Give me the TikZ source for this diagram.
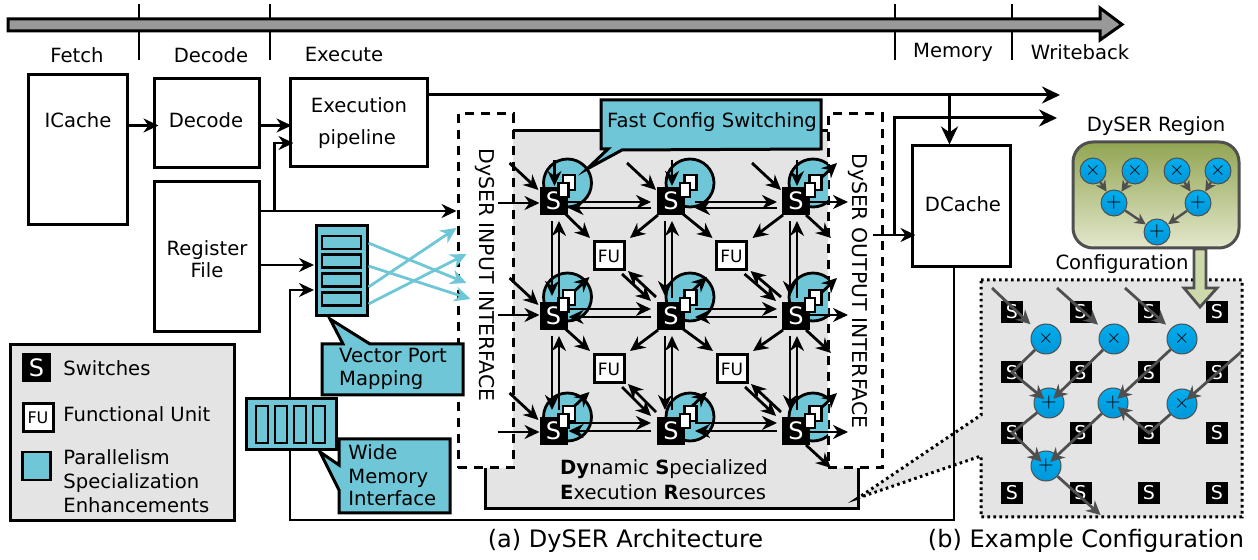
\documentclass[tikz,border=0pt]{standalone}
\usepackage{fontspec}
\setmainfont{DejaVu Sans}
\usetikzlibrary{arrows.meta}

\definecolor{cyanfill}{HTML}{6EC6D6}
\definecolor{greyfill}{HTML}{E4E4E4}
\definecolor{darkline}{HTML}{4F4F4F}
\definecolor{optop}{HTML}{00AEEF}
\definecolor{opbot}{HTML}{0096D8}
\definecolor{regtop}{HTML}{92A552}
\definecolor{regbot}{HTML}{E3E7CC}
\definecolor{cfgfill}{HTML}{CDD8AB}

\tikzset{
	box/.style = {draw, line width=1.5pt, fill=white},
	bluebox/.style = {box, fill=cyanfill},
	dashbox/.style = {draw, line width=1.5pt, dash pattern=on 4.5pt off 3.5pt},
	sw/.style = {fill=black, text=white, minimum size=14pt, font=\fontsize{12}{12}\selectfont},
	smallsw/.style = {fill=black, text=white, minimum size=11pt, font=\fontsize{9.5}{10}\selectfont},
	fu/.style = {box, minimum width=15pt, minimum height=14pt, font=\fontsize{8.5}{9}\selectfont},
	circ/.style = {circle, draw, fill=cyanfill, line width=1.4pt, minimum size=24pt},
	ar/.style = {line width=1.4pt, -{Stealth[length=7.5pt,width=7pt]}},
	bigar/.style = {line width=1.5pt, -{Stealth[length=9pt,width=8.5pt]}},
	bluear/.style = {line width=1.4pt, cyanfill, -{Stealth[length=8pt,width=7.5pt]}},
	greyar/.style = {line width=1.4pt, darkline, shorten >=3pt, -{Stealth[length=7pt,width=7pt]}},
	op/.style = {circle, draw=darkline, line width=.5pt, top color=optop, bottom color=opbot, text=black},
	lbl/.style = {align=left},
}

\begin{document}
\begin{tikzpicture}[x=0.5pt, y=-0.5pt, every node/.style = {inner sep=0pt, font=\fontsize{9.8}{11.5}\selectfont}]
\useasboundingbox (0,0) rectangle (1258,560);

% pipeline bar
\foreach \x in {139,270,895,1012}
{
	\draw[line width=1.4pt] (\x,4) -- (\x,60);
};
\draw[line width=1.5pt, fill=black!40] (8,19) -- (1100,19) -- (1100,8) -- (1122,24.5) -- (1100,40) -- (1100,31) -- (8,31) -- cycle;
\node (fetch) at (77,55) {Fetch};
\node (dec) at (211,55) {Decode};
\node (exe) at (344,55) {Execute};
\node (mem) at (953,52) {Memory};
\node (wb) at (1080,52) {Writeback};

% dyser fabric background
\fill[greyfill] (513,131) -- (828,131) -- (828,468) -- (858,468) -- (858,509) -- (485,509) -- (485,468) -- (513,468) -- cycle;
\draw[line width=1.5pt] (513,131) -- (828,131);
\draw[line width=1.5pt] (485,468) -- (485,509) -- (858,509) -- (858,468);
\node[dashbox, minimum width=27.5pt, minimum height=177pt] (dyin) at (485.5,291) {};
\node[dashbox, minimum width=27pt, minimum height=177pt] (dyout) at (855,291) {};
\node[rotate=-90, font=\fontsize{10.2}{12}\selectfont] (dyinl) at (485,275) {DySER INPUT INTERFACE};
\node[rotate=-90, font=\fontsize{10.2}{12}\selectfont] (dyoutl) at (858,291) {DySER OUTPUT INTERFACE};

% pipeline blocks
\node[box, minimum width=49.5pt, minimum height=75pt] (icache) at (77.5,150) {};
\node[box, minimum width=52.5pt, minimum height=44.5pt] (decode) at (206.5,123.5) {};
\node[box, minimum width=68.5pt, minimum height=44pt] (execp) at (358.5,123) {};
\node[box, minimum width=52.5pt, minimum height=75pt] (regfile) at (206.5,257) {};
\node[box, minimum width=49pt, minimum height=60.5pt] (dcache) at (961,206.5) {};
\node (icachel) at (78,120) {ICache};
\node (decodel) at (206,120) {Decode};
\node (execl) at (359,105) {Execution};
\node (pipel) at (357,139) {pipeline};
\node[align=center] (regl) at (207,259.5) {Register\\[-0.5pt]File};
\node (dcachel) at (963,204) {DCache};

\coordinate (rowa) at (0,125.5);
\coordinate (rowb) at (0,143);
\coordinate (rfup) at (274.5,211);
\coordinate (rfmid) at (0,265);
\coordinate (wba) at (1060,95);
\coordinate (wbb) at (1057,118);
\coordinate (outa) at (873,235);
\coordinate (outb) at (894,235);
\coordinate (mema) at (949.5,95);
\coordinate (memb) at (290,520);
\coordinate (memt) at (0,290);

\draw[ar] (icache.east |- rowa) -- ([xshift=3pt]decode.west |- rowa);
\draw[ar] (decode.east |- rowa) -- ([xshift=1.5pt]execp.west |- rowa);
\draw[ar] (rfup) |- ([xshift=2.5pt]execp.west |- rowb);
\draw[ar] (regfile.east |- rfup) -- (dyin.west |- rfup);
\draw[bigar] (execp.east |- wba) -- (wba);
\draw[bigar] (outb) |- (wbb);
\draw[bigar] (mema) -- (mema |- dcache.north);
\draw[ar] (outa) -- ([xshift=2.5pt]dcache.west |- outa);

% switches
\begin{scope}
\clip (0,0) rectangle (828,560);
\foreach \c/\x/\cx in {1/553.5/567.5,2/671/690,3/796/813}
{
	\foreach \r/\cy in {1/183,2/297,3/417}
	{
		\node[circ] (circ\r\c) at (\cx,\cy) {};
	};
};
\end{scope}
\foreach \c/\x in {1/553.5,2/671,3/796}
{
	\foreach \r/\y in {1/201,2/316,3/431}
	{
		\node[sw] (s\r\c) at (\x,\y) {S};
	};
};
\node[fu] (fu11) at (609,256) {FU};
\node[fu] (fu12) at (731.5,256) {FU};
\node[fu] (fu21) at (609,369) {FU};
\node[fu] (fu22) at (732,369) {FU};

% arrows into the switches
\foreach \n in {s11,s12,s13,s21,s31}
{
	\draw[ar] ([shift={(-44,-38)}]\n.center) -- ([shift={(-15,-11)}]\n.center);
};
\foreach \n in {s11,s12,s13}
{
	\draw[ar] ([shift={(1,-41)}]\n.center) -- ([shift={(1,-15)}]\n.center);
};
\foreach \n/\dy in {s11/2,s21/-1,s31/1}
{
	\draw[ar] ([shift={(-56,\dy)}]\n.center) -- ([shift={(-14,\dy)}]\n.center);
};
\foreach \n/\dy in {s13/1,s23/-1,s33/1}
{
	\draw[ar] ([shift={(14,\dy)}]\n.center) -- ([shift={(52,\dy)}]\n.center);
};
% diagonals
\foreach \n/\f in {s11/fu11,s12/fu12,s21/fu21,s22/fu22}
{
	\draw[ar] ([shift={(12,13)}]\n.center) -- ([shift={(-19,-18)}]\f.center);
};
\foreach \n/\f in {s12/fu11,s13/fu12,s22/fu21,s23/fu22}
{
	\draw[ar] ([shift={(-13,14)}]\n.center) -- ([shift={(21,-18)}]\f.center);
};
\foreach \n in {s13,s23,s33}
{
	\draw[ar] ([shift={(10,14)}]\n.center) -- ([shift={(35,37)}]\n.center);
};
\foreach \f/\n in {fu11/s22,fu12/s23,fu21/s32,fu22/s33}
{
	\draw[ar] ([shift={(13,18)}]\f.center) -- ([shift={(-20,-15)}]\n.center);
	\draw[ar] ([shift={(-15,-19)}]\n.center) -- ([shift={(19,15)}]\f.center);
};
% between the columns
\foreach \r/\dy/\dz in {1/1/7,2/-7/1,3/-8/0}
{
	\draw[ar] ([shift={(14,\dy)}]s\r1.center) -- ([shift={(-20,\dy)}]s\r2.center);
	\draw[ar] ([shift={(-20,\dz)}]s\r2.center) -- ([shift={(15,\dz)}]s\r1.center);
	\draw[ar] ([shift={(24,\dy)}]s\r2.center) -- ([shift={(-19,\dy)}]s\r3.center);
	\draw[ar] ([shift={(-19,\dz)}]s\r3.center) -- ([shift={(24,\dz)}]s\r2.center);
};
% between the rows
\foreach \c/\da/\db in {1/-1.5/5.5,2/-6/1,3/-6/1}
{
	\draw[ar] ([shift={(\da,20)}]s1\c.center) -- ([shift={(\da,-20)}]s2\c.center);
	\draw[ar] ([shift={(\db,-18)}]s2\c.center) -- ([shift={(\db,20)}]s1\c.center);
	\draw[ar] ([shift={(\da,20)}]s2\c.center) -- ([shift={(\da,-21)}]s3\c.center);
	\draw[ar] ([shift={(\db,-21)}]s3\c.center) -- ([shift={(\db,20)}]s2\c.center);
};
\foreach \n in {s21,s22,s31,s32}
{
	\draw[ar] ([shift={(19,-23)}]\n.center) -- ([shift={(36,-39)}]\n.center);
};
\foreach \n in {s13,s23,s33}
{
	\draw[ar] ([shift={(24,-22)}]\n.center) -- ([shift={(41,-38)}]\n.center);
};
% config copies
\foreach \c/\dx in {1/0,2/4,3/4}
{
	\foreach \r/\dy in {1/0,2/0,3/1}
	{
		\node[box, line width=1.2pt, minimum width=6pt, minimum height=7.5pt] (cb\r\c) at ([shift={(15.5+\dx,-18.5+\dy)}]s\r\c.center) {};
		\node[box, line width=1.2pt, minimum width=5pt, minimum height=7pt] (cf\r\c) at ([shift={(10+\dx,-11+\dy)}]s\r\c.center) {};
	};
};

% callouts
\draw[line width=1.5pt, fill=cyanfill] (601,100) -- (821,100) -- (821,149) -- (622,150) -- (587,169) -- (608,149) -- (601,149) -- cycle;
\node (fast) at (712,122) {Fast Config Switching};

\node[lbl] (dyn) at (664,479.5) {\textbf{Dy}namic \textbf{S}pecialized\\[1pt]\textbf{E}xecution \textbf{R}esources};

% vector ports
\draw[ar] (regfile.east |- rfmid) -- (314,265);
\draw[ar] ([xshift=-3.5pt]dcache.south) |- (memb) |- (314,290);
\draw[line width=1.5pt, fill=cyanfill] (322,344) -- (343,344) -- (330,319) -- (370,344) -- (463,344) -- (463,395) -- (322,395) -- cycle;
\node[lbl] (vpm) at (393,369) {Vector Port\\Mapping};
\node[bluebox, minimum width=25.5pt, minimum height=45pt] (portmap) at (341.5,271) {};
\foreach \i/\y in {1/242.5,2/261,3/280,4/299}
{
	\node[bluebox, line width=1.3pt, minimum width=19.5pt, minimum height=6.5pt] (pb\i) at (341.5,\y) {};
};
\foreach \fy/\tx/\ty in {-28/10/-8,-5/14/8,16/0/-63,33/10/-37}
{
	\draw[bluear] ([shift={(0,\fy)}]portmap.east) -- ([shift={(\tx,\ty)}]dyin.west);
};

% wide memory
\draw[line width=1.5pt, fill=cyanfill] (339,439) -- (450,439) -- (450,513) -- (339,513) -- (339,490) -- (320,452) -- (339,465) -- cycle;
\node[lbl, anchor=west] (wmi) at (348,475.5) {Wide\\[0.5pt]Memory\\[-0.5pt]Interface};
\node[bluebox, minimum width=45pt, minimum height=25.5pt] (widemem) at (291,424.5) {};
\foreach \i/\x in {1/262,2/281,3/300,4/319}
{
	\node[bluebox, line width=1.3pt, minimum width=6pt, minimum height=18.5pt] (wb\i) at (\x,424.5) {};
};

% legend
\node[box, fill=greyfill, minimum width=112pt, minimum height=88pt] (legend) at (122,433) {};
\node[sw, minimum size=14.5pt] (legs) at (36.5,367.5) {S};
\node[fu, font=\fontsize{8}{9}\selectfont] (legf) at (38,417.5) {FU};
\node[bluebox, line width=1.3pt, minimum size=14pt] (legp) at (36.5,466) {};
\node[anchor=west] (legsl) at (63,368) {Switches};
\node[anchor=west] (legfl) at (63,414) {Functional Unit};
\node[anchor=west, lbl] (legpl) at (63,481) {Parallelism\\[0.5pt]Specialization\\[0.5pt]Enhancements};

% example configuration
\draw[line width=1.5pt, fill=greyfill, dash pattern=on 1.3pt off 1.7pt] (981,280) -- (1242,280) -- (1242,517) -- (981,517) -- (981,456) -- (858,498) -- (981,415) -- cycle;
\draw[line width=1.4pt] ([xshift=-3.5pt]dcache.south) -- ++(0,253);
\foreach \r/\y in {1/312,2/372.5,3/433,4/493}
{
	\foreach \c/\x in {1/1012,2/1080.5,3/1149,4/1217}
	{
		\node[smallsw] (e\r\c) at (\x,\y) {S};
	};
};
\node[op, minimum size=15pt] (ex1) at (1046,339) {$\times$};
\node[op, minimum size=15pt] (ex2) at (1114,339) {$\times$};
\node[op, minimum size=15pt] (ex3) at (1182,339) {$\times$};
\node[op, minimum size=15pt] (ex4) at (1182,404) {$\times$};
\node[op, minimum size=15pt] (ep1) at (1049,403) {$+$};
\node[op, minimum size=15pt] (ep2) at (1113,403) {$+$};
\node[op, minimum size=15pt] (ep3) at (1046,466) {$+$};
\coordinate (ei1) at (992,288);
\coordinate (ei2) at (1057,288);
\coordinate (ei3) at (1125,288);
\coordinate (ei4) at (1241,352);
\coordinate (eo) at (1105,519);
\draw[greyar] (ei1) -- (ex1);
\draw[greyar] (ei2) -- (ex2);
\draw[greyar] (ei3) -- (ex3);
\draw[greyar] (ei4) -- (ex4.center);
\draw[greyar] (ex1) -- (e21.center) -- (ep1.center);
\draw[greyar] (ex2) -- (ep1.center);
\draw[greyar] (ex3) -- (ep2.center);
\draw[greyar] (ex4) -- (e33.center) -- (ep2.center);
\draw[greyar] (ep1) -- (e31.center) -- (ep3.center);
\draw[greyar] (ep2) -- (ep3.center);
\draw[greyar] (ep3) -- (eo);

% dyser region
\node (regionl) at (1156,126) {DySER Region};
\node[draw=darkline, line width=1.5pt, rounded corners=10pt, top color=regtop, bottom color=regbot, minimum width=83pt, minimum height=53pt] (region) at (1156,195) {};
\node[op, minimum size=13pt] (rx1) at (1093,171) {$\times$};
\node[op, minimum size=13pt] (rx2) at (1135,171) {$\times$};
\node[op, minimum size=13pt] (rx3) at (1177,171) {$\times$};
\node[op, minimum size=13pt] (rx4) at (1218,171) {$\times$};
\node[op, minimum size=13pt] (rp1) at (1114,203) {$+$};
\node[op, minimum size=13pt] (rp2) at (1198,203) {$+$};
\node[op, minimum size=13pt] (rp3) at (1157,232) {$+$};
\foreach \a/\b in {rx1/rp1,rx2/rp1,rx3/rp2,rx4/rp2,rp1/rp3,rp2/rp3}
{
	\draw[line width=1.2pt, darkline, -{Stealth[length=5.5pt,width=5.5pt]}] (\a) -- (\b);
};
\node (confl) at (1122,264) {Configuration};
\draw[line width=1.4pt, darkline, fill=cfgfill] (1194,249) -- (1206,249) -- (1206,288) -- (1217,288) -- (1200,307) -- (1184,288) -- (1194,288) -- cycle;

% captions
\node[font=\fontsize{12}{14}\selectfont] (capa) at (625.5,541) {(a) DySER Architecture};
\node[font=\fontsize{12}{14}\selectfont] (capb) at (1086,541) {(b) Example Configuration};
\end{tikzpicture}
\end{document}
